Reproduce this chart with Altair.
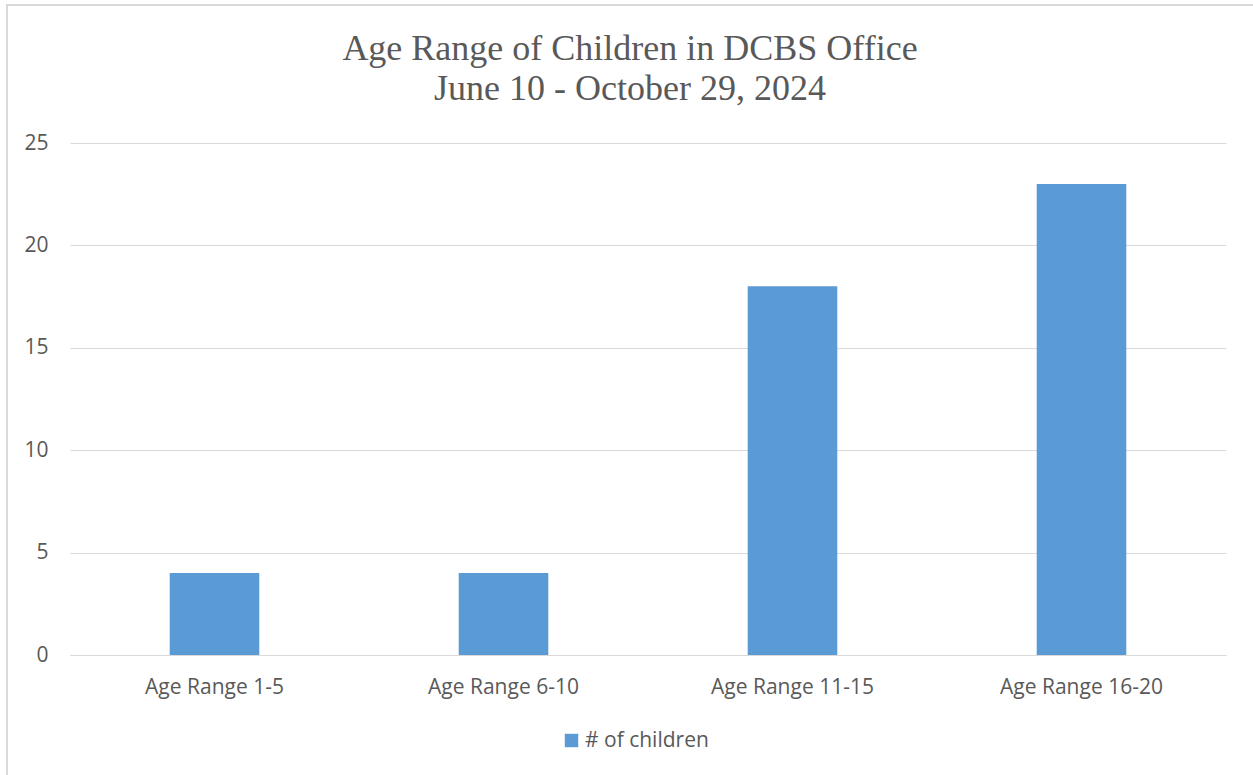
import altair as alt
import pandas as pd

# Children seen in the DCBS office, grouped by age range
age_ranges = ["Age Range 1-5", "Age Range 6-10", "Age Range 11-15", "Age Range 16-20"]
children = [4, 4, 18, 23]
series_name = "# of children"

df = pd.DataFrame({"age_range": age_ranges, "count": children, "series": series_name})

BAR = "#5B9BD5"
GRID = "#D9D9D9"
TEXT = "#595959"
SANS = "Open Sans"
SERIF = "Liberation Serif"
FS = 21

bars = alt.Chart(df).mark_bar(color=BAR).encode(
    x=alt.X(
        "age_range:N",
        sort=age_ranges,
        title=None,
        scale=alt.Scale(paddingInner=0.69, paddingOuter=0.345),
        axis=alt.Axis(
            labelAngle=0,
            labelFont=SANS,
            labelFontSize=FS,
            labelColor=TEXT,
            labelPadding=21,
            ticks=False,
            grid=False,
            domainColor=GRID,
            domainWidth=1,
        ),
    ),
    y=alt.Y(
        "count:Q",
        title=None,
        scale=alt.Scale(domain=[0, 25]),
        axis=alt.Axis(
            values=[0, 5, 10, 15, 20, 25],
            labelFont=SANS,
            labelFontSize=FS,
            labelColor=TEXT,
            labelPadding=22,
            ticks=False,
            domain=False,
            gridColor=GRID,
            gridWidth=1,
        ),
    ),
    fill=alt.Fill(
        "series:N",
        scale=alt.Scale(domain=[series_name], range=[BAR]),
        legend=alt.Legend(
            title=None,
            orient="none",
            legendX=491,
            legendY=587,
            symbolType="square",
            symbolSize=180,
            symbolStrokeWidth=0,
            labelFont=SANS,
            labelFontSize=FS,
            labelColor=TEXT,
            labelOffset=3,
        ),
    ),
)

# Light frame around the whole chart area
frame = alt.Chart(df).mark_rect(fill=None, stroke=GRID, strokeWidth=1.5).encode(
    x=alt.value(-63), x2=alt.value(1200), y=alt.value(-138), y2=alt.value(700)
)

chart = (
    alt.layer(frame, bars)
    .properties(
        width=1156,
        height=512,
        background="white",
        autosize=alt.AutoSizeParams(type="none"),
        padding={"left": 70, "top": 143, "right": 27, "bottom": 120},
        title=alt.TitleParams(
            text=["Age Range of  Children in DCBS Office", "June 10 - October 29, 2024"],
            font=SERIF,
            fontSize=36,
            fontWeight="normal",
            color=TEXT,
            lineHeight=40,
            anchor="middle",
            offset=0,
            dx=-18,
            dy=104,
        ),
    )
    .configure_view(stroke="transparent", strokeWidth=0)
)

chart.save("out.html", embed_options={"renderer": "svg", "actions": False})
